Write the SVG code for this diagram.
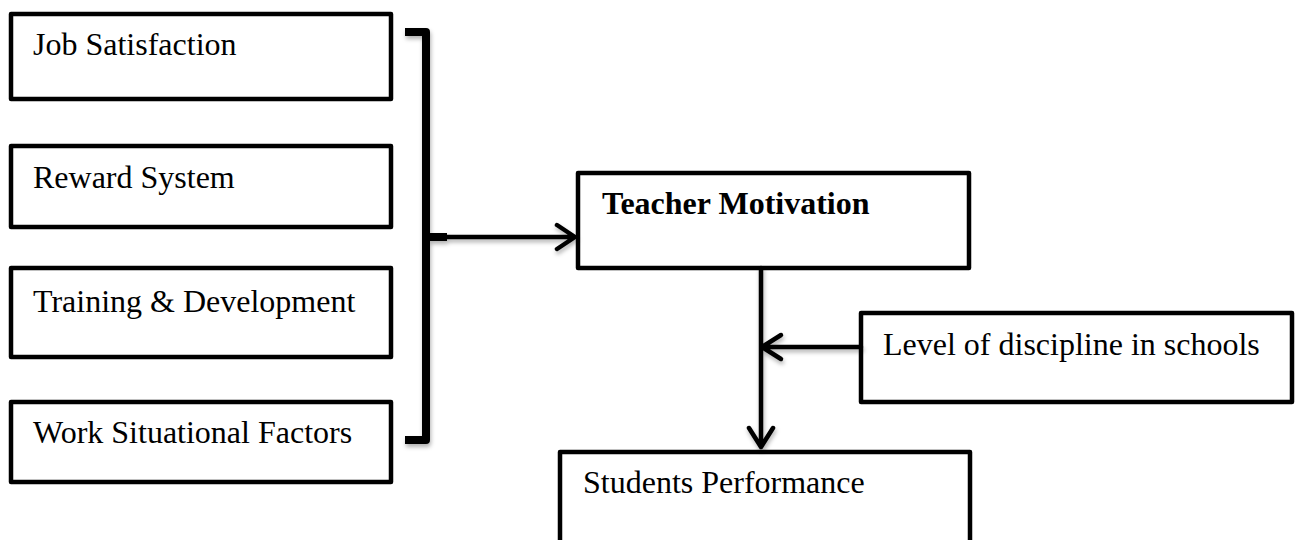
<svg xmlns="http://www.w3.org/2000/svg" width="1295" height="540" viewBox="0 0 1295 540">
<defs>
<style>
.box{fill:#fff;stroke:#000;stroke-width:4.5;stroke-linejoin:round}
.t{font-family:"Liberation Serif","Times New Roman",serif;font-size:32px;fill:#000}
.b{font-weight:bold}
.ln{fill:none;stroke:#000;stroke-width:4.5;stroke-linecap:round;stroke-linejoin:round}
.br{fill:none;stroke:#000;stroke-width:8;stroke-linejoin:round}
</style>
<filter id="sh" x="-20%" y="-20%" width="140%" height="140%">
<feDropShadow dx="1" dy="3" stdDeviation="2" flood-color="#000" flood-opacity="0.3"/>
</filter>
</defs>
<rect width="1295" height="540" fill="#fff"/>
<g id="job-satisfaction"><rect class="box" x="11" y="14" width="380" height="85"/><text class="t" x="33" y="55">Job Satisfaction</text></g>
<g id="reward-system"><rect class="box" x="11" y="146" width="380" height="81"/><text class="t" x="33" y="188">Reward System</text></g>
<g id="training-development"><rect class="box" x="11" y="268" width="380" height="89"/><text class="t" x="33" y="312">Training &amp; Development</text></g>
<g id="work-situational-factors"><rect class="box" x="11" y="402" width="380" height="80"/><text class="t" x="33" y="443">Work Situational Factors</text></g>
<g id="teacher-motivation"><rect class="box" x="578" y="173" width="391" height="95"/><text class="t b" x="602" y="214">Teacher Motivation</text></g>
<g id="level-of-discipline"><rect class="box" x="861" y="313" width="431" height="89"/><text class="t" x="883" y="355">Level of discipline in schools</text></g>
<g id="students-performance"><rect class="box" x="560" y="452" width="410" height="100"/><text class="t" x="583" y="493">Students Performance</text></g>
<g id="connectors" filter="url(#sh)">
<path class="br" d="M405,32 H426 V440 H405"/>
<path class="br" d="M426,237 H447"/>
<path class="ln" d="M447,237 H574 M557,225 L575,237 L557,249"/>
<path class="ln" d="M761,268 V446 M749,428 L761,447 L773,428"/>
<path class="ln" d="M861,347 H763 M781,335 L762,347 L781,359"/>
</g>
</svg>
